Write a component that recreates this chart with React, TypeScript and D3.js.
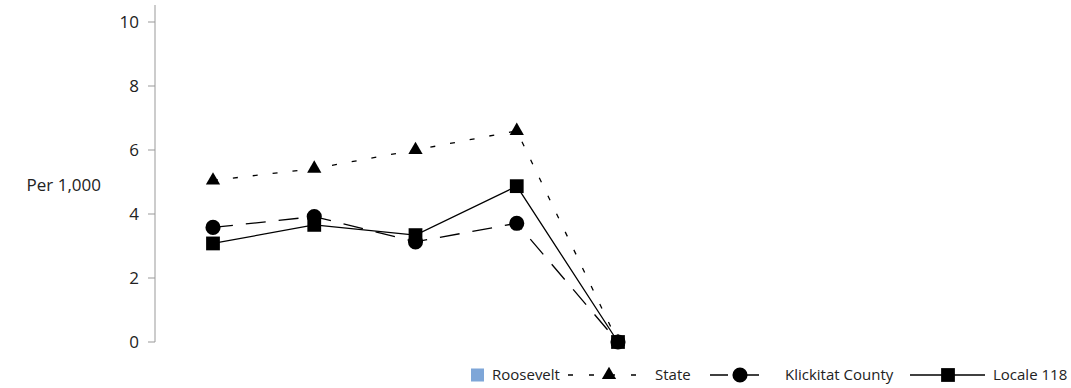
import React from "react";
import * as d3 from "d3";

const categories = ["1", "2", "3", "4", "5"];
const stateValues = [5.05, 5.42, 6.0, 6.6, 0];
const klickitatValues = [3.58, 3.92, 3.13, 3.71, 0];
const localeValues = [3.08, 3.66, 3.34, 4.87, 0];
const yTicks = [0, 2, 4, 6, 8, 10];
const legendLabels = ["Roosevelt", "State", "Klickitat County", "Locale 118"];

const W = 1071;
const H = 388;
const FONT = "'Open Sans', sans-serif";

export default function App() {
  const x = d3.scalePoint<string>().domain(categories).range([213, 618]);
  const y = d3.scaleLinear().domain([0, 10]).range([342, 22]);
  const axisX = 155;

  const line = d3
    .line<number>()
    .x((_, i) => x(categories[i]) as number)
    .y((d) => y(d));

  const tri = d3.symbol().type(d3.symbolTriangle).size(88)() as string;
  const circ = d3.symbol().type(d3.symbolCircle).size(180)() as string;
  const sq = d3.symbol().type(d3.symbolSquare).size(190)() as string;

  const series = [
    { values: stateValues, dash: "5,15", marker: tri },
    { values: klickitatValues, dash: "20,13", marker: circ },
    { values: localeValues, dash: null as string | null, marker: sq },
  ];

  const ly = 375;

  return (
    <svg
      width={W}
      height={H}
      style={{ position: "absolute", left: 0, top: 0, background: "#fff" }}
      fontFamily={FONT}
    >
      <line x1={axisX} x2={axisX} y1={5} y2={y(0)} stroke="#999" strokeWidth={1} />
      {yTicks.map((t) => (
        <g key={t} transform={`translate(0,${y(t)})`}>
          <line x1={axisX - 7} x2={axisX} stroke="#999" strokeWidth={1} />
          <text x={139} dy="0.36em" textAnchor="end" fontSize={17} fill="#222">
            {t}
          </text>
        </g>
      ))}
      <text x={101} y={185} dy="0.36em" textAnchor="end" fontSize={17} fill="#222">
        Per 1,000
      </text>

      {series.map((s, i) => (
        <path
          key={i}
          d={line(s.values) as string}
          fill="none"
          stroke="#000"
          strokeWidth={1.3}
          strokeDasharray={s.dash ?? undefined}
        />
      ))}
      {series.map((s, i) =>
        s.values.map((v, j) => (
          <path
            key={`${i}-${j}`}
            d={s.marker}
            transform={`translate(${x(categories[j])},${y(v)})`}
            fill="#000"
          />
        ))
      )}

      {/* Legend */}
      <g fontSize={15} fill="#222">
        <rect x={471} y={ly - 6.5} width={13} height={13} fill="#7ea6d8" />
        <text x={492} y={ly} dy="0.35em">{legendLabels[0]}</text>

        <line x1={568} x2={640} y1={ly} y2={ly} stroke="#000" strokeWidth={1.3} strokeDasharray="5,16" />
        <path d={tri} transform={`translate(609,${ly})`} fill="#000" />
        <text x={655} y={ly} dy="0.35em">{legendLabels[1]}</text>

        <line x1={710} x2={765} y1={ly} y2={ly} stroke="#000" strokeWidth={1.3} strokeDasharray="18,13" />
        <path d={circ} transform={`translate(740,${ly})`} fill="#000" />
        <text x={785} y={ly} dy="0.35em">{legendLabels[2]}</text>

        <line x1={910} x2={985} y1={ly} y2={ly} stroke="#000" strokeWidth={1.3} />
        <path d={sq} transform={`translate(948,${ly})`} fill="#000" />
        <text x={993} y={ly} dy="0.35em">{legendLabels[3]}</text>
      </g>
    </svg>
  );
}
